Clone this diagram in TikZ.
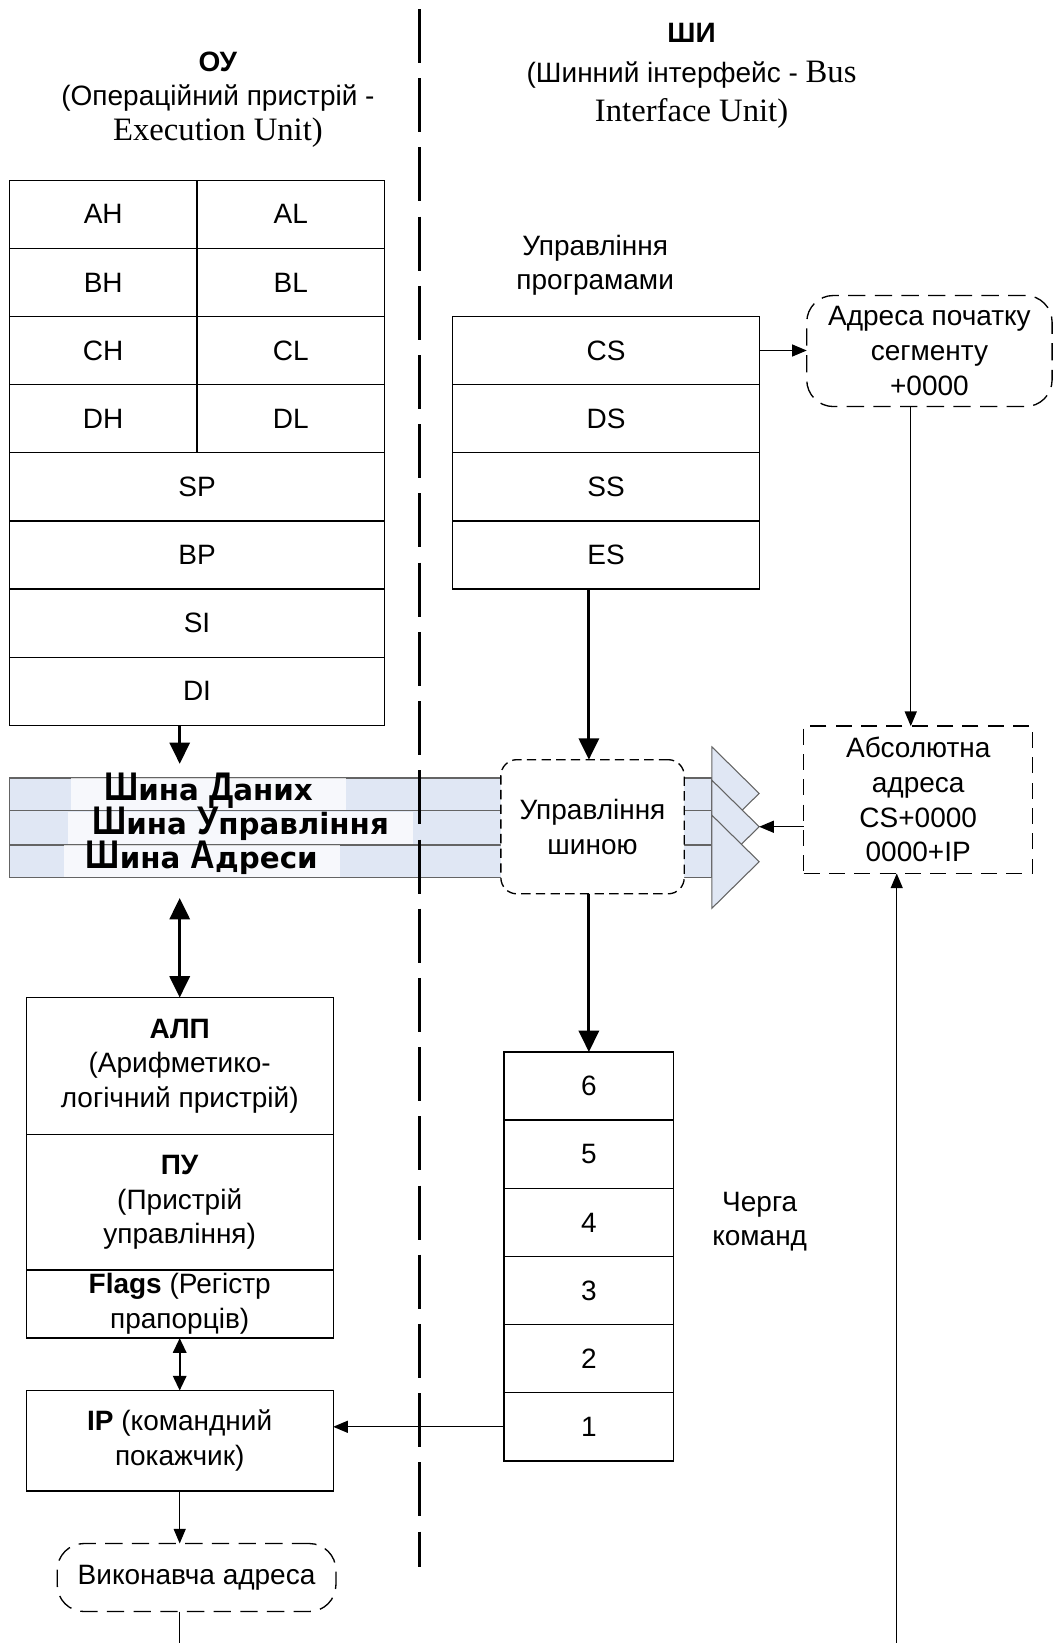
\documentclass[tikz,border=0pt]{standalone}
\usepackage{fontspec}
\setmainfont{Liberation Sans}
\newfontfamily\serifrm{Liberation Serif}
\newfontfamily\buscapfont[FakeStretch=0.85]{Liberation Sans}
\newfontfamily\buslowfont{DejaVu Sans}
\usetikzlibrary{positioning, arrows.meta}

\definecolor{busfill}{RGB}{224,231,244}
\definecolor{busline}{RGB}{100,100,100}

\newcommand{\latin}[1]{{\serifrm\fontsize{24.5}{26}\selectfont #1}}
\newcommand{\buscap}[1]{{\buscapfont\bfseries\fontsize{30}{30}\selectfont #1}}
\newcommand{\buslow}[1]{{\buslowfont\bfseries\fontsize{22}{22}\selectfont #1}}

\begin{document}
\begin{tikzpicture}[
    x=0.7858pt, y=-0.7858pt,
    font=\fontsize{21}{26}\selectfont,
    every node/.style={align=center, inner sep=2pt, outer sep=0pt},
    reg/.style={draw, line width=1pt, minimum height=51.1pt},
    halfreg/.style={reg, minimum width=140.7pt},
    fullreg/.style={reg, minimum width=281.3pt},
    segreg/.style={reg, minimum width=230.2pt},
    queuecell/.style={reg, minimum width=127.3pt},
    unitbox/.style={draw, line width=1pt, minimum width=230.2pt},
    roundbox/.style={draw, line width=1pt, rounded corners=20pt, dash pattern=on 13pt off 7pt},
    dashbox/.style={draw, line width=1pt, dash pattern=on 12pt off 7pt},
    buslabel/.style={fill=white, fill opacity=0.75, text opacity=1, text height=16pt, text depth=6pt, inner ysep=1pt},
    stripe/.style={fill=busfill, draw=busline, line width=1pt},
    chevron/.style={fill=busfill, draw=busline, line width=0.8pt},
    thinarrow/.style={line width=1pt, -{Triangle[length=11pt, width=9pt]}},
    fatarrow/.style={line width=2.4pt, -{Triangle[length=16pt, width=15pt]}},
    fatboth/.style={line width=2.4pt, {Triangle[length=16pt, width=15pt]}-{Triangle[length=16pt, width=15pt]}},
    thinboth/.style={line width=1.6pt, {Triangle[length=11pt, width=10pt]}-{Triangle[length=11pt, width=10pt]}},
    divider/.style={line width=2.4pt, dash pattern=on 40.5pt off 11.4pt}
]
    \useasboundingbox (0,0) rectangle (1006,1568);

    % Titles
    \node (eutitle) at (208,95) {\textbf{ОУ}\\(Операційний пристрій -\\\latin{Execution Unit)}};
    \node[font=\fontsize{21}{29.5}\selectfont] (biutitle) at (660,72.5) {\textbf{ШИ}\\(Шинний інтерфейс - \latin{Bus}\\\latin{Interface Unit)}};

    % Divider
    \coordinate (divtop) at (400,8.6);
    \coordinate (divbot) at (400,1495);

    % General registers
    \node[halfreg] (ah) at (98.5,204.5) {AH};
    \node[halfreg, right=0pt of ah] (al) {AL};
    \node[halfreg, below=0pt of ah] (bh) {BH};
    \node[halfreg, below=0pt of al] (bl) {BL};
    \node[halfreg, below=0pt of bh] (ch) {CH};
    \node[halfreg, below=0pt of bl] (cl) {CL};
    \node[halfreg, below=0pt of ch] (dh) {DH};
    \node[halfreg, below=0pt of cl] (dl) {DL};
    \node[fullreg, below=0pt of dh.south east] (sp) {SP};
    \node[fullreg, below=0pt of sp] (bp) {BP};
    \node[fullreg, below=0pt of bp] (si) {SI};
    \node[fullreg, below=0pt of si] (di) {DI};

    % Segment registers
    \node (proglabel) at (568,253) {Управління\\програмами};
    \node[segreg] (cs) at (578.5,334.5) {CS};
    \node[segreg, below=0pt of cs] (ds) {DS};
    \node[segreg, below=0pt of ds] (ss) {SS};
    \node[segreg, below=0pt of ss] (es) {ES};

    \node[roundbox, minimum width=184pt, minimum height=83.3pt] (segstart) at (887,335) {Адреса початку\\сегменту\\+0000};
    \node[dashbox, minimum width=171.8pt, minimum height=110.5pt] (absaddr) at (876.3,763.3) {Абсолютна\\адреса\\CS+0000\\0000+IP};

    % Buses
    \path[stripe] (9,742.6) rectangle (679.3,773.2);
    \path[stripe] (9,773.2) rectangle (679.3,806.5);
    \path[stripe] (9,806.5) rectangle (679.3,837.7);
    \node[buslabel, minimum width=206pt] (databus) at (199,757.9) {\buscap{Ш}\buslow{ина }\buscap{Д}\buslow{аних}};
    \node[buslabel, minimum width=259pt] (ctlbus) at (229.5,789.8) {\buscap{Ш}\buslow{ина }\buscap{У}\buslow{правління}};
    \node[buslabel, minimum width=207pt] (addrbus) at (192.5,822.1) {\buscap{Ш}\buslow{ина }\buscap{А}\buslow{дреси}};
    \path[chevron] (679.3,712.7) -- (724.5,757.2) -- (679.3,801.7) -- cycle;
    \path[chevron] (679.3,744.5) -- (724.5,789) -- (679.3,833.5) -- cycle;
    \path[chevron] (679.3,777.9) -- (724.5,822.4) -- (679.3,866.9) -- cycle;
    \coordinate (ctltip) at (724.5,789);

    \draw[divider] (divtop) -- (divbot);

    \node[draw, line width=1pt, fill=white, rounded corners=12pt, dash pattern=on 7pt off 4pt, minimum width=137.5pt, minimum height=100.6pt] (busctl) at (565.5,789) {Управління\\шиною};

    % Instruction queue
    \node[queuecell] (q6) at (562,1036.5) {6};
    \node[queuecell, below=0pt of q6] (q5) {5};
    \node[queuecell, below=0pt of q5] (q4) {4};
    \node[queuecell, below=0pt of q4] (q3) {3};
    \node[queuecell, below=0pt of q3] (q2) {2};
    \node[queuecell, below=0pt of q2] (q1) {1};
    \node (queuelabel) at (725,1166) {Черга\\команд};

    % Execution unit
    \node[unitbox, minimum height=102.9pt] (alu) at (171.5,1017.5) {\textbf{АЛП}\\(Арифметико-\\логічний пристрій)};
    \node[unitbox, minimum height=101.4pt, below=0pt of alu] (cu) {\textbf{ПУ}\\(Пристрій\\управління)};
    \node[unitbox, minimum height=51.1pt, below=0pt of cu] (flags) {\textbf{Flags} (Регістр\\прапорців)};
    \node[unitbox, minimum height=75.4pt, below=39.3pt of flags] (ip) {\textbf{IP} (командний\\покажчик)};
    \node[roundbox, minimum width=209pt, minimum height=51pt] (execaddr) at (187.6,1505.5) {Виконавча адреса};

    \coordinate (datatip) at (171.5,729);
    \coordinate (addrtip) at (171.5,857);
    \coordinate (eabottom) at (171.5,1568);
    \coordinate (absbottom) at (855.8,1568);

    % Arrows
    \draw[fatarrow] (di.south -| alu.north) -- (datatip);
    \draw[fatboth] (addrtip) -- (alu.north);
    \draw[fatarrow] (es.south -| q6.north) -- (busctl.north -| q6.north);
    \draw[fatarrow] (busctl.south -| q6.north) -- (q6.north);
    \draw[thinarrow] (cs.east) -- (cs.east -| segstart.west);
    \draw[thinarrow] ([xshift=-14pt]segstart.south) -- ([xshift=-14pt]segstart.south |- absaddr.north);
    \draw[thinarrow] (absaddr.west |- ctltip) -- (ctltip);
    \draw[thinarrow] (absbottom) -- (absbottom |- absaddr.south);
    \draw[thinboth] (flags.south) -- (ip.north);
    \draw[thinarrow] (q1.west) -- (q1.west -| ip.east);
    \draw[thinarrow] (ip.south) -- (ip.south |- execaddr.north);
    \draw[line width=1pt] (eabottom |- execaddr.south) -- (eabottom);

\end{tikzpicture}
\end{document}
